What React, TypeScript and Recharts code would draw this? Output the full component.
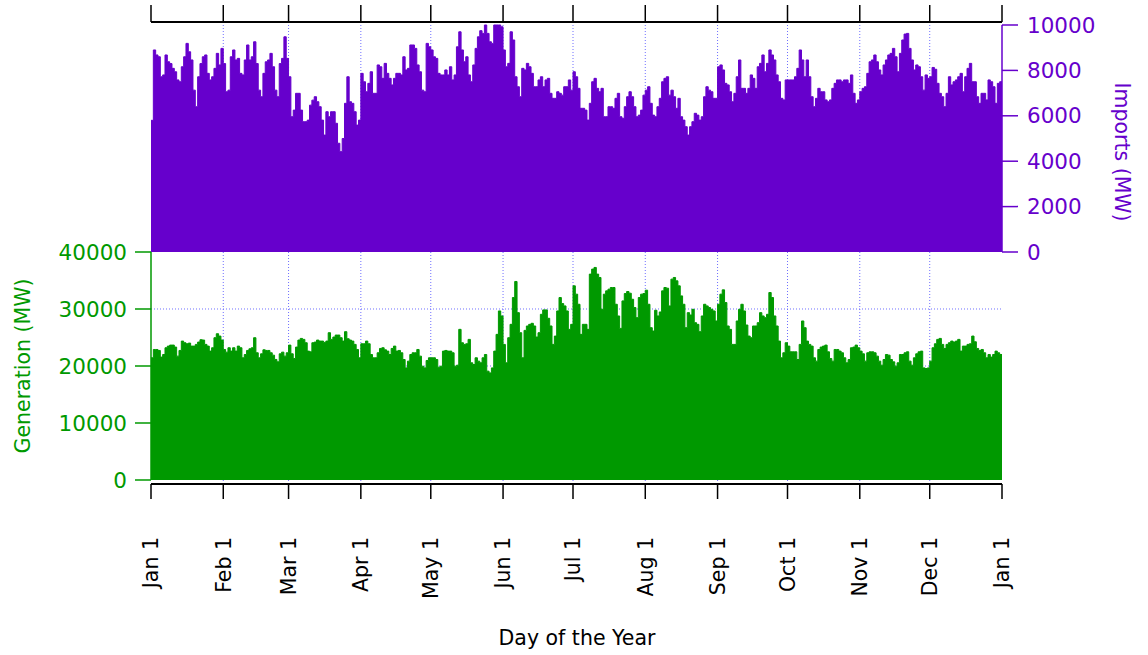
import {
  Area,
  AreaChart,
  CartesianGrid,
  ReferenceLine,
  XAxis,
  YAxis,
} from "recharts";

const monthTicks = [0, 31, 59, 90, 120, 151, 181, 212, 243, 273, 304, 334, 365];
const monthLabels = [
  "Jan 1", "Feb 1", "Mar 1", "Apr 1", "May 1", "Jun 1", "Jul 1",
  "Aug 1", "Sep 1", "Oct 1", "Nov 1", "Dec 1", "Jan 1",
];
const importTicks = [0, 2000, 4000, 6000, 8000, 10000];
const generationTicks = [0, 10000, 20000, 30000, 40000];
const generationGridLines = [10000, 20000, 30000];

// daily imports, MW
const importsMW = [
  5800, 8900, 8680, 8600, 7720, 7800, 8680, 8380, 8300, 8090,
  7940, 7580, 7500, 8160, 8600, 9190, 8820, 8460, 7130, 6400,
  7720, 8300, 8600, 8680, 7870, 7580, 7720, 8090, 8750, 8240,
  8970, 8300, 7060, 7130, 8600, 8900, 8460, 8530, 7870, 7800,
  8460, 9120, 8460, 8600, 9260, 8300, 7130, 6840, 7870, 8380,
  8460, 8750, 8160, 7130, 6840, 8300, 8530, 9480, 8530, 7720,
  5960, 6250, 6990, 6990, 6250, 5740, 5740, 5810, 6470, 6690,
  6840, 6620, 6400, 5810, 5150, 6180, 5960, 6180, 6180, 5670,
  4790, 4420, 5000, 6550, 7720, 6620, 6550, 6180, 5590, 5810,
  7870, 7500, 7060, 7430, 7940, 6990, 6990, 8240, 8160, 7650,
  8310, 7870, 7650, 7360, 7650, 7870, 7870, 7800, 8600, 8020,
  8090, 9120, 9120, 8970, 8240, 7940, 7130, 7060, 9190, 9040,
  8900, 8600, 8530, 7870, 7800, 7800, 8020, 7800, 8160, 7580,
  7800, 9040, 9700, 8900, 8380, 8600, 7800, 7500, 8240, 8970,
  9480, 9750, 9630, 10000, 9630, 9260, 9190, 10000, 10000, 10000,
  9920, 8900, 8160, 8310, 9700, 9340, 7720, 7280, 6840, 8090,
  8020, 8310, 8160, 7870, 7280, 7280, 7580, 7720, 7280, 7580,
  7650, 6990, 6770, 6770, 7060, 6990, 6910, 7280, 7280, 7580,
  7130, 7940, 7720, 7210, 6330, 6330, 6250, 5810, 6550, 7500,
  7650, 7210, 7060, 7210, 5960, 5960, 6400, 6400, 6330, 6770,
  6990, 5960, 5890, 6400, 6840, 7060, 6840, 6400, 5960, 6030,
  6250, 6910, 7130, 7280, 6550, 6030, 5960, 6400, 6770, 7500,
  7650, 7720, 6910, 7130, 6840, 6330, 6770, 5960, 5810, 5520,
  5150, 5520, 5740, 6110, 6030, 5810, 5960, 6840, 7280, 7130,
  7060, 6770, 6770, 8160, 8240, 8020, 7430, 7360, 7060, 6620,
  6990, 7720, 8460, 7210, 7210, 6990, 7210, 7800, 7650, 7210,
  8160, 8310, 8680, 7940, 8310, 8900, 8680, 8460, 7800, 7500,
  6770, 6700, 7580, 7580, 7580, 7580, 7720, 8090, 8900, 8460,
  7720, 8460, 7720, 6840, 6400, 6770, 7210, 7060, 7060, 6700,
  6620, 6700, 7210, 7430, 7580, 7580, 7500, 7580, 7580, 7430,
  7800, 6990, 6550, 6700, 7060, 7210, 7280, 7870, 8380, 8460,
  8680, 8380, 8020, 7800, 8240, 8460, 8680, 8750, 8970, 8600,
  7940, 8750, 9340, 9600, 9630, 8970, 8460, 8020, 8240, 8160,
  7720, 7130, 7800, 7650, 7720, 8130, 8050, 7430, 6990, 6840,
  6400, 6990, 7720, 7360, 7500, 7580, 7720, 7870, 7060, 7720,
  8090, 8310, 7500, 7500, 6840, 6550, 6990, 6990, 6700, 7580,
  7500, 7280, 6550, 7430, 7500,
];

// daily generation, MW
const generationMW = [
  21440, 22900, 22900, 22730, 21560, 22020, 23200, 23490, 23670, 23670,
  23320, 21730, 22730, 24370, 24080, 23900, 24020, 23490, 23490, 23790,
  24200, 24610, 24550, 23790, 23490, 22610, 23200, 24960, 25660, 25250,
  24550, 22900, 22430, 23200, 22610, 23200, 22610, 23490, 23200, 21440,
  22020, 22730, 23020, 23200, 24960, 22320, 21440, 22140, 22840, 22730,
  22730, 22320, 21900, 21150, 20730, 22140, 22430, 21730, 22320, 23670,
  22140, 21320, 23320, 24550, 24840, 24670, 24080, 22610, 22490, 24080,
  24200, 24550, 24370, 24370, 24140, 24370, 25840, 24670, 25080, 25430,
  25430, 24960, 24370, 26020, 24780, 24550, 24370, 23790, 22900, 21440,
  23900, 23900, 24370, 23900, 22020, 21440, 21440, 22320, 23080, 23200,
  22840, 22610, 22020, 23080, 23490, 22610, 22730, 22320, 21140, 19670,
  20850, 22020, 22320, 22320, 22900, 21730, 19970, 19670, 20970, 21440,
  21440, 21440, 21140, 19790, 19970, 22610, 22730, 22610, 22610, 22320,
  19970, 20140, 26430, 24080, 23790, 23900, 24670, 20560, 20260, 21440,
  20850, 20560, 21440, 22020, 19090, 18790, 19670, 22610, 25550, 29660,
  28780, 23790, 20560, 24960, 27310, 32010, 34830, 29360, 25840, 21440,
  26250, 27020, 27310, 27490, 27020, 25080, 25840, 29070, 29840, 29840,
  28370, 27020, 23790, 25250, 29660, 32010, 30950, 30540, 29660, 26430,
  27310, 34060, 32600, 30830, 25550, 27310, 27310, 26430, 36120, 37000,
  37290, 36120, 35530, 29950, 32600, 33180, 33480, 33770, 33770, 30830,
  28780, 26600, 31420, 32710, 33070, 32770, 31710, 30250, 28480, 32010,
  32600, 32710, 33300, 30830, 26720, 26130, 29780, 28780, 29480, 33180,
  33770, 33650, 30540, 35240, 35530, 34940, 34060, 32300, 30830, 26720,
  29360, 28950, 29950, 27600, 27310, 26020, 28780, 30830, 30540, 30250,
  29950, 29660, 27900, 30830, 32600, 33360, 31130, 27020, 26430, 23790,
  23790, 27900, 29950, 30830, 29660, 27190, 25250, 24960, 27020, 27020,
  27600, 29360, 28780, 28480, 29070, 32890, 32010, 28780, 27020, 24370,
  21440, 22320, 24080, 23490, 22490, 22490, 22490, 21140, 23790, 27900,
  26720, 24370, 23790, 23490, 21440, 20850, 22900, 23320, 23490, 23670,
  22490, 21320, 20850, 22900, 22900, 22610, 22320, 21440, 20560, 21140,
  23200, 23320, 23670, 23200, 22610, 22140, 20850, 22320, 22490, 22490,
  22320, 21730, 20850, 20140, 21140, 22020, 21900, 21140, 20730, 19970,
  20560, 22020, 22020, 22320, 22490, 20850, 20140, 21440, 22140, 22490,
  22610, 19670, 19560, 19670, 20850, 23200, 23900, 24670, 24840, 23790,
  23080, 23790, 24080, 24370, 24200, 24370, 24670, 22610, 23490, 23490,
  23790, 23900, 25250, 24250, 23080, 22730, 22900, 22320, 21440, 22020,
  21560, 22020, 22610, 22320, 22020,
];

const PURPLE = "#6600cc";
const GREEN = "#009900";
const GRID = "#6f6fff";
const FONT = "'DejaVu Sans', Verdana, sans-serif";

// one row per day; the last day is repeated at day 365 so its step reaches the end of the axis
const rows = importsMW.map((imports, day) => ({
  day,
  imports,
  generation: generationMW[day],
}));
rows.push({
  day: 365,
  imports: importsMW[importsMW.length - 1],
  generation: generationMW[generationMW.length - 1],
});

const gridDays = monthTicks.slice(1, -1);

function MonthTick({ x, y, payload }: { x?: number; y?: number; payload?: { value: number } }) {
  const label = monthLabels[monthTicks.indexOf(payload?.value ?? -1)] ?? "";
  return (
    <text
      x={x}
      y={y}
      dy="0.36em"
      transform={`rotate(-90 ${x} ${y})`}
      textAnchor="end"
      fill="#000"
      fontSize={20.5}
      fontFamily={FONT}
    >
      {label}
    </text>
  );
}

export default function App() {
  return (
    <div
      style={{
        position: "absolute",
        left: 0,
        top: 0,
        width: 1148,
        height: 655,
        background: "#fff",
      }}
    >
      <div style={{ position: "absolute", left: 0, top: 0 }}>
        <AreaChart
          width={1148}
          height={272}
          data={rows}
          margin={{ top: 0, right: 0, bottom: 20, left: 151 }}
        >
          <CartesianGrid
            horizontal={false}
            verticalValues={gridDays}
            stroke={GRID}
            strokeDasharray="1 2"
          />
          <XAxis
            dataKey="day"
            type="number"
            domain={[0, 365]}
            ticks={monthTicks}
            interval={0}
            orientation="top"
            height={22}
            tickSize={17}
            tickFormatter={() => ""}
            axisLine={{ stroke: "#000", strokeWidth: 2 }}
            tickLine={{ stroke: "#000", strokeWidth: 1.5 }}
          />
          <YAxis
            orientation="right"
            width={146}
            domain={[0, 10132]}
            ticks={importTicks}
            interval={0}
            tickSize={16}
            tickMargin={9}
            axisLine={false}
            tickLine={{ stroke: PURPLE, strokeWidth: 1.5 }}
            tick={{ fill: PURPLE, fontSize: 21.5, fontFamily: FONT }}
          />
          <Area
            type="stepAfter"
            dataKey="imports"
            fill={PURPLE}
            fillOpacity={1}
            stroke={PURPLE}
            strokeWidth={1}
            isAnimationActive={false}
          />
          <ReferenceLine
            segment={[
              { x: 365, y: 0 },
              { x: 365, y: 10000 },
            ]}
            stroke={PURPLE}
            strokeWidth={1.5}
          />
        </AreaChart>
      </div>

      <div style={{ position: "absolute", left: 0, top: 240 }}>
        <AreaChart
          width={1148}
          height={415}
          data={rows}
          margin={{ top: 12, right: 146, bottom: 0, left: 0 }}
        >
          <CartesianGrid
            verticalValues={gridDays}
            horizontalValues={generationGridLines}
            stroke={GRID}
            strokeDasharray="1 2"
          />
          <XAxis
            dataKey="day"
            type="number"
            domain={[0, 365]}
            ticks={monthTicks}
            interval={0}
            height={171}
            tickSize={15}
            tickMargin={38}
            tick={(props: any) => <MonthTick {...props} />}
            axisLine={{ stroke: "#000", strokeWidth: 2 }}
            tickLine={{ stroke: "#000", strokeWidth: 1.5 }}
          />
          <YAxis
            width={151}
            domain={[-702, 40000]}
            ticks={generationTicks}
            interval={0}
            tickSize={16}
            tickMargin={8}
            axisLine={false}
            tickLine={{ stroke: GREEN, strokeWidth: 1.5 }}
            tick={{ fill: GREEN, fontSize: 21.5, fontFamily: FONT }}
          />
          <Area
            type="stepAfter"
            dataKey="generation"
            fill={GREEN}
            fillOpacity={1}
            stroke={GREEN}
            strokeWidth={1}
            isAnimationActive={false}
          />
          <ReferenceLine
            segment={[
              { x: 0, y: 0 },
              { x: 0, y: 40000 },
            ]}
            stroke={GREEN}
            strokeWidth={1.5}
          />
        </AreaChart>
      </div>

      <svg
        width={1148}
        height={655}
        style={{ position: "absolute", left: 0, top: 0, pointerEvents: "none" }}
      >
        <text
          x={23}
          y={366}
          dy="0.36em"
          transform="rotate(-90 23 366)"
          textAnchor="middle"
          fill={GREEN}
          fontSize={20.5}
          fontFamily={FONT}
        >
          Generation (MW)
        </text>
        <text
          x={1122}
          y={152}
          dy="0.36em"
          transform="rotate(90 1122 152)"
          textAnchor="middle"
          fill={PURPLE}
          fontSize={20.5}
          fontFamily={FONT}
        >
          Imports (MW)
        </text>
        <text
          x={577}
          y={645}
          textAnchor="middle"
          fill="#000"
          fontSize={20.5}
          fontFamily={FONT}
        >
          Day of the Year
        </text>
      </svg>
    </div>
  );
}
